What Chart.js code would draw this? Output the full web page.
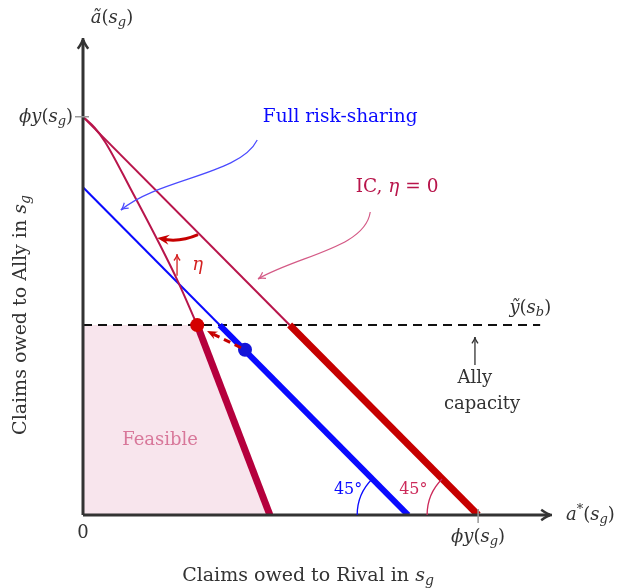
<!DOCTYPE html>
<html>
<head>
<meta charset="utf-8">
<script src="https://cdn.jsdelivr.net/npm/chart.js@4/dist/chart.umd.min.js"></script>
<style>
  html, body { margin: 0; padding: 0; background: #fff; }
</style>
</head>
<body>
<canvas id="chart" width="630" height="588"></canvas>
<script>
// levels (units of phi*y(s_g))
const phiY = 1;
const yTildeB = 0.477;      // ally capacity
const fullRS = 0.823;       // full risk-sharing intercept

// IC line, eta = 0  (thin above capacity, thick below)
const icThinX = [0, 0.523];
const icThinY = [1, 0.477];
const icThickX = [0.523, 1];
const icThickY = [0.477, 0];

// full risk-sharing line
const frThinX = [0, 0.346];
const frThinY = [0.823, 0.477];
const frThickX = [0.346, 0.823];
const frThickY = [0.477, 0];

// IC line rotated by eta
const etaCurveX = [0, 0.030, 0.056, 0.119, 0.195, 0.241, 0.289];
const etaCurveY = [1, 0.972, 0.937, 0.822, 0.678, 0.585, 0.477];
const etaThickX = [0.289, 0.473];
const etaThickY = [0.477, 0];

// ally capacity (dashed)
const capX = [0, 1.157];
const capY = [0.477, 0.477];

// feasible region
const feasX = [0, 0.289, 0.473];
const feasY = [0.477, 0.477, 0];

// dots
const redDot = [0.289, 0.477];
const blueDot = [0.410, 0.415];

const zip = (xs, ys) => xs.map((x, i) => ({ x: x, y: ys[i] }));

const SERIF = '"DejaVu Serif", "Liberation Serif", serif';
const CRIMSON = '#b8154b';
const CRIMSON_THICK = '#b5003d';
const RED = '#c60000';
const BLUE = '#0a0aff';
const AXIS = '#333333';

function fontFor(kind, size) {
  if (kind === 'r') return size + 'px ' + SERIF;
  if (kind === 'i') return 'italic ' + size + 'px ' + SERIF;
  return 'italic ' + Math.round(size * 0.72) + 'px ' + SERIF;
}

// parts: [text, kind]  kind = r (roman), i (italic), sub (subscript), sup
function rich(ctx, parts, x, y, size, color, align) {
  let w = 0;
  parts.forEach(([t, k]) => { ctx.font = fontFor(k, size); w += ctx.measureText(t).width; });
  let cx = align === 'left' ? x : align === 'right' ? x - w : x - w / 2;
  ctx.fillStyle = color;
  ctx.textAlign = 'left';
  ctx.textBaseline = 'middle';
  parts.forEach(([t, k]) => {
    ctx.font = fontFor(k, size);
    let dy = k === 'sub' ? size * 0.28 : k === 'sup' ? -size * 0.3 : 0;
    ctx.fillText(t, cx, y + dy);
    cx += ctx.measureText(t).width;
  });
}

function openHead(ctx, x, y, ang, len, color, lw) {
  ctx.save();
  ctx.strokeStyle = color;
  ctx.lineWidth = lw;
  ctx.beginPath();
  ctx.moveTo(x - len * Math.cos(ang - 0.45), y - len * Math.sin(ang - 0.45));
  ctx.quadraticCurveTo(x - len * 0.3 * Math.cos(ang), y - len * 0.3 * Math.sin(ang), x, y);
  ctx.quadraticCurveTo(x - len * 0.3 * Math.cos(ang), y - len * 0.3 * Math.sin(ang),
    x - len * Math.cos(ang + 0.45), y - len * Math.sin(ang + 0.45));
  ctx.stroke();
  ctx.restore();
}

function filledHead(ctx, x, y, ang, len, color) {
  ctx.save();
  ctx.fillStyle = color;
  ctx.beginPath();
  ctx.moveTo(x, y);
  ctx.lineTo(x - len * Math.cos(ang - 0.4), y - len * Math.sin(ang - 0.4));
  ctx.lineTo(x - len * 0.6 * Math.cos(ang), y - len * 0.6 * Math.sin(ang));
  ctx.lineTo(x - len * Math.cos(ang + 0.4), y - len * Math.sin(ang + 0.4));
  ctx.closePath();
  ctx.fill();
  ctx.restore();
}

const annotations = {
  id: 'annotations',
  afterDatasetsDraw(chart) {
    const ctx = chart.ctx;
    const xs = chart.scales.x, ys = chart.scales.y;
    const X = v => xs.getPixelForValue(v);
    const Y = v => ys.getPixelForValue(v);
    const x0 = X(0), y0 = Y(0);
    const ca = chart.chartArea;
    ctx.save();
    ctx.lineCap = 'butt';

    // axes
    ctx.strokeStyle = AXIS;
    ctx.lineWidth = 3;
    ctx.beginPath();
    ctx.moveTo(x0, y0); ctx.lineTo(ca.right - 2, y0);
    ctx.moveTo(x0, y0); ctx.lineTo(x0, ca.top + 2);
    ctx.stroke();
    openHead(ctx, ca.right, y0, 0, 12, AXIS, 2.5);
    openHead(ctx, x0, ca.top, -Math.PI / 2, 12, AXIS, 2.5);

    // ticks at phi*y
    ctx.strokeStyle = '#999';
    ctx.lineWidth = 1.5;
    ctx.beginPath();
    ctx.moveTo(x0 - 8, Y(phiY)); ctx.lineTo(x0 + 6, Y(phiY));
    ctx.moveTo(X(phiY), y0 - 6); ctx.lineTo(X(phiY), y0 + 8);
    ctx.stroke();

    const phiParts = [['ϕ', 'i'], ['y', 'i'], ['(', 'r'], ['s', 'i'], ['g', 'sub'], [')', 'r']];
    rich(ctx, phiParts, x0 - 10, Y(phiY), 18, '#333', 'right');
    rich(ctx, phiParts, X(phiY), y0 + 22, 18, '#333', 'center');
    rich(ctx, [['0', 'r']], x0, y0 + 18, 18, '#333', 'center');

    // axis names
    rich(ctx, [['ã', 'i'], ['(', 'r'], ['s', 'i'], ['g', 'sub'], [')', 'r']], x0 + 29, 18, 18, '#333', 'center');
    rich(ctx, [['a', 'i'], ['*', 'sup'], ['(', 'r'], ['s', 'i'], ['g', 'sub'], [')', 'r']], ca.right + 14, y0, 18, '#333', 'left');
    rich(ctx, [['Claims owed to Rival in ', 'r'], ['s', 'i'], ['g', 'sub']], 308, 576, 19, '#333', 'center');
    ctx.save();
    ctx.translate(21, 315);
    ctx.rotate(-Math.PI / 2);
    rich(ctx, [['Claims owed to Ally in ', 'r'], ['s', 'i'], ['g', 'sub']], 0, 0, 19, '#333', 'center');
    ctx.restore();

    // feasible label
    rich(ctx, [['Feasible', 'r']], X(0.195), Y(0.188), 18, '#d8779a', 'center');

    // capacity label + arrow
    rich(ctx, [['ỹ', 'i'], ['(', 'r'], ['s', 'i'], ['b', 'sub'], [')', 'r']], X(1.132), Y(0.52), 18, '#333', 'center');
    ctx.strokeStyle = '#333'; ctx.lineWidth = 1.3;
    ctx.beginPath(); ctx.moveTo(X(0.992), Y(0.377)); ctx.lineTo(X(0.992), Y(0.447)); ctx.stroke();
    openHead(ctx, X(0.992), Y(0.447), -Math.PI / 2, 7, '#333', 1.3);
    rich(ctx, [['Ally', 'r']], X(0.992), Y(0.342), 18, '#333', 'center');
    rich(ctx, [['capacity', 'r']], X(1.010), Y(0.279), 18, '#333', 'center');

    // full risk-sharing label + arrow
    rich(ctx, [['Full risk-sharing', 'r']], X(0.651), Y(1.0), 18.5, BLUE, 'center');
    ctx.strokeStyle = '#4a4aff'; ctx.lineWidth = 1.2;
    ctx.beginPath();
    ctx.moveTo(X(0.441), Y(0.942));
    ctx.bezierCurveTo(X(0.397), Y(0.854), X(0.195), Y(0.847), X(0.096), Y(0.766));
    ctx.stroke();
    openHead(ctx, X(0.096), Y(0.766), Math.atan2(Y(0.766) - Y(0.847), X(0.096) - X(0.195)), 8, '#4a4aff', 1.2);

    // IC label + arrow
    rich(ctx, [['IC, ', 'r'], ['η', 'i'], [' = 0', 'r']], X(0.795), Y(0.824), 18.5, CRIMSON, 'center');
    ctx.strokeStyle = '#d45a86'; ctx.lineWidth = 1.2;
    ctx.beginPath();
    ctx.moveTo(X(0.727), Y(0.761));
    ctx.bezierCurveTo(X(0.714), Y(0.671), X(0.549), Y(0.653), X(0.443), Y(0.593));
    ctx.stroke();
    openHead(ctx, X(0.443), Y(0.593), Math.atan2(Y(0.593) - Y(0.653), X(0.443) - X(0.549)), 8, '#d45a86', 1.2);

    // rotation arrow (thick red)
    ctx.strokeStyle = RED; ctx.lineWidth = 3;
    ctx.beginPath();
    ctx.moveTo(X(0.291), Y(0.704));
    ctx.quadraticCurveTo(X(0.245), Y(0.684), X(0.200), Y(0.693));
    ctx.stroke();
    filledHead(ctx, X(0.188), Y(0.696), Math.PI + 0.15, 13, RED);

    // eta arrow
    ctx.strokeStyle = '#d42020'; ctx.lineWidth = 1.3;
    ctx.beginPath(); ctx.moveTo(X(0.238), Y(0.601)); ctx.lineTo(X(0.238), Y(0.655)); ctx.stroke();
    openHead(ctx, X(0.238), Y(0.655), -Math.PI / 2, 7, '#d42020', 1.3);
    rich(ctx, [['η', 'i']], X(0.290), Y(0.626), 18, '#d42020', 'center');

    // dashed red arrow from blue dot toward red dot
    const ax = X(blueDot[0]), ay = Y(blueDot[1]);
    const bx = X(0.314), by = Y(0.462);
    ctx.strokeStyle = RED; ctx.lineWidth = 3;
    ctx.setLineDash([7, 5]);
    ctx.beginPath(); ctx.moveTo(ax - 4, ay - 2); ctx.lineTo(bx + 5, by + 2.5); ctx.stroke();
    ctx.setLineDash([]);
    filledHead(ctx, bx, by, Math.atan2(by - ay, bx - ax), 11, RED);

    // 45 degree arcs
    const r = 51;
    ctx.lineWidth = 1.3;
    ctx.strokeStyle = BLUE;
    ctx.beginPath(); ctx.arc(X(fullRS), y0, r, Math.PI, Math.PI * 1.25); ctx.stroke();
    ctx.strokeStyle = '#cc2a5a';
    ctx.beginPath(); ctx.arc(X(phiY), y0, r, Math.PI, Math.PI * 1.25); ctx.stroke();
    rich(ctx, [['45°', 'r']], X(0.671), Y(0.063), 16, BLUE, 'center');
    rich(ctx, [['45°', 'r']], X(0.836), Y(0.063), 16, '#cc2a5a', 'center');

    ctx.restore();
  }
};

const lineDs = (xs, ys, color, width, extra) => Object.assign({
  data: zip(xs, ys),
  showLine: true,
  borderColor: color,
  borderWidth: width,
  pointRadius: 0,
  fill: false,
  tension: 0,
}, extra || {});

new Chart(document.getElementById('chart'), {
  type: 'scatter',
  data: {
    datasets: [
      { data: [{ x: redDot[0], y: redDot[1] }], pointRadius: 7, pointBackgroundColor: '#d40000', pointBorderWidth: 0, order: 0 },
      { data: [{ x: blueDot[0], y: blueDot[1] }], pointRadius: 7, pointBackgroundColor: '#1414d8', pointBorderWidth: 0, order: 0 },
      lineDs(etaThickX, etaThickY, CRIMSON_THICK, 7, { order: 1 }),
      lineDs(frThickX, frThickY, BLUE, 6, { order: 1 }),
      lineDs(icThickX, icThickY, RED, 7, { order: 1 }),
      lineDs(etaCurveX, etaCurveY, CRIMSON, 2, { order: 2, cubicInterpolationMode: 'monotone' }),
      lineDs(frThinX, frThinY, BLUE, 2, { order: 2 }),
      lineDs(icThinX, icThinY, CRIMSON, 2, { order: 2 }),
      lineDs(capX, capY, '#111', 2, { order: 3, borderDash: [9, 6] }),
      lineDs(feasX, feasY, 'rgba(0,0,0,0)', 0, { order: 4, fill: 'origin', backgroundColor: '#f8e5ed' }),
    ]
  },
  options: {
    responsive: false,
    animation: false,
    devicePixelRatio: 1,
    layout: { padding: { left: 83, right: 78, top: 38, bottom: 73 } },
    scales: {
      x: { type: 'linear', display: false, min: 0, max: 1.187 },
      y: { type: 'linear', display: false, min: 0, max: 1.198 },
    },
    plugins: { legend: { display: false }, tooltip: { enabled: false } },
  },
  plugins: [annotations],
});
</script>
</body>
</html>
